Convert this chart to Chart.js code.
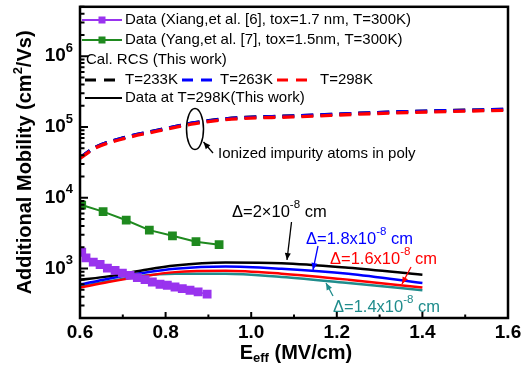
<!DOCTYPE html>
<html><head><meta charset="utf-8">
<script src="https://cdn.jsdelivr.net/npm/chart.js@4.4.1/dist/chart.umd.min.js"></script>
<style>html,body{margin:0;padding:0;background:#fff;}</style>
</head><body>
<canvas id="c" width="522" height="379"></canvas>
<script>
// ---------- data ----------
const eXiang  = [0.604, 0.614, 0.631, 0.647, 0.664, 0.682, 0.699, 0.717, 0.734, 0.752, 0.769, 0.787, 0.804, 0.822, 0.839, 0.857, 0.876, 0.897];
const muXiang = [1697, 1416, 1230, 1141, 1012, 940, 862, 800, 743, 697, 645, 599, 580, 549, 521, 494, 467, 434];

const eYang  = [0.604, 0.654, 0.708, 0.762, 0.816, 0.871, 0.925];
const muYang = [7900, 6370, 4820, 3490, 2900, 2395, 2175];

const eRcs     = [0.6, 0.635, 0.705, 0.783, 0.869, 0.954, 1.098, 1.331, 1.6];
const muRcs233 = [37000, 51500, 71300, 90500, 115500, 133000, 143500, 163000, 178000];
const muRcs263 = [36900, 51300, 71000, 90200, 115000, 132500, 143000, 162500, 177500];
const muRcs298 = [36000, 50100, 69200, 87900, 112000, 129000, 139000, 158000, 173000];

const eCalc   = [0.6, 0.666, 0.744, 0.822, 0.94, 1.071, 1.227, 1.4];
const muD20   = [692, 775, 940, 1105, 1217, 1190, 1026, 818];
const muD18   = [593, 719, 862, 993, 1070, 993, 846, 624];
const muD16   = [538, 645, 775, 890, 931, 846, 697, 538];
const muD14   = [561, 659, 788, 846, 846, 757, 624, 494];

const xMajorTicks = [0.6, 0.8, 1.0, 1.2, 1.4, 1.6];
const xMinorTicks = [0.7, 0.9, 1.1, 1.3, 1.5];
const yDecadeExps = [3, 4, 5, 6];

const FONT = '"Liberation Sans", Arial, sans-serif';
const PURPLE = '#9933ee', GREEN = '#1f8a1f', TEAL = '#1f8c8c', BLUE = '#0000ff', RED = '#ff0000';

const pts = (xs, ys) => xs.map((v, i) => ({x: v, y: ys[i]}));

// ---------- overlay plugin: frame, ticks, labels, legend, annotations ----------
function drawRich(ctx, x, y, parts) {
  let cx = x;
  for (const [t, size, weight, dy] of parts) {
    ctx.font = `${weight} ${size}px ${FONT}`;
    ctx.fillText(t, cx, y + dy);
    cx += ctx.measureText(t).width;
  }
  return cx;
}
function richWidth(ctx, parts) {
  let w = 0;
  for (const [t, size, weight] of parts) { ctx.font = `${weight} ${size}px ${FONT}`; w += ctx.measureText(t).width; }
  return w;
}
function arrow(ctx, x1, y1, x2, y2, color) {
  ctx.strokeStyle = color; ctx.fillStyle = color; ctx.lineWidth = 1.3;
  ctx.beginPath(); ctx.moveTo(x1, y1); ctx.lineTo(x2, y2); ctx.stroke();
  const ang = Math.atan2(y2 - y1, x2 - x1), L = 7, W = 3;
  ctx.beginPath();
  ctx.moveTo(x2, y2);
  ctx.lineTo(x2 - L * Math.cos(ang) + W * Math.sin(ang), y2 - L * Math.sin(ang) - W * Math.cos(ang));
  ctx.lineTo(x2 - L * Math.cos(ang) - W * Math.sin(ang), y2 - L * Math.sin(ang) + W * Math.cos(ang));
  ctx.closePath(); ctx.fill();
}

const overlay = {
  id: 'overlay',
  afterDatasetsDraw(chart) {
    const {ctx, chartArea: a, scales: {x, y}} = chart;
    ctx.save();
    // frame
    ctx.strokeStyle = '#000'; ctx.lineWidth = 2.5;
    ctx.strokeRect(a.left, a.top, a.right - a.left, a.bottom - a.top);
    // x ticks (inward)
    ctx.lineWidth = 2;
    ctx.beginPath();
    xMajorTicks.forEach(v => { const px = x.getPixelForValue(v); ctx.moveTo(px, a.bottom); ctx.lineTo(px, a.bottom - 6); });
    xMinorTicks.forEach(v => { const px = x.getPixelForValue(v); ctx.moveTo(px, a.bottom); ctx.lineTo(px, a.bottom - 3.5); });
    ctx.stroke();
    // y ticks (inward)
    ctx.beginPath();
    for (let k = 2; k <= 6; k++) {
      for (let m = 1; m <= 9; m++) {
        const v = m * Math.pow(10, k);
        if (v < y.min - 1e-9 || v > y.max + 1e-9) continue;
        const py = y.getPixelForValue(v);
        const len = m === 1 ? 8 : 4.5;
        ctx.moveTo(a.left, py); ctx.lineTo(a.left + len, py);
      }
    }
    ctx.stroke();

    // x tick labels
    ctx.fillStyle = '#000'; ctx.textBaseline = 'middle'; ctx.textAlign = 'center';
    ctx.font = `bold 19px ${FONT}`;
    xMajorTicks.forEach(v => ctx.fillText(v.toFixed(1), x.getPixelForValue(v), a.bottom + 15));
    // y tick labels 10^n
    ctx.textAlign = 'left';
    yDecadeExps.forEach(n => {
      const py = y.getPixelForValue(Math.pow(10, n));
      const parts = [['10', 19, 'bold', 0], [String(n), 13, 'bold', -8]];
      const w = richWidth(ctx, parts);
      drawRich(ctx, a.left - 7 - w, py, parts);
    });
    // x title
    {
      const parts = [['E', 20, 'bold', 0], ['eff', 13, 'bold', 5], [' (MV/cm)', 20, 'bold', 0]];
      const w = richWidth(ctx, parts);
      drawRich(ctx, (a.left + a.right) / 2 - w / 2 + 2, a.bottom + 35, parts);
    }
    // y title
    {
      ctx.save();
      ctx.translate(25, (a.top + a.bottom) / 2);
      ctx.rotate(-Math.PI / 2);
      const parts = [['Additional Mobility (cm', 20, 'bold', 0], ['2', 13, 'bold', -7], ['/Vs)', 20, 'bold', 0]];
      const w = richWidth(ctx, parts);
      drawRich(ctx, -w / 2, 0, parts);
      ctx.restore();
    }

    // legend
    ctx.textAlign = 'left'; ctx.textBaseline = 'middle';
    const seg = (x1, x2, yy, color, dash, lw) => {
      ctx.save(); ctx.strokeStyle = color; ctx.lineWidth = lw; ctx.setLineDash(dash);
      ctx.beginPath(); ctx.moveTo(x1, yy); ctx.lineTo(x2, yy); ctx.stroke(); ctx.restore();
    };
    const txt = (t, xx, yy) => { ctx.fillStyle = '#000'; ctx.font = `15px ${FONT}`; ctx.fillText(t, xx, yy); };
    seg(82, 122, 20, PURPLE, [], 2); ctx.fillStyle = PURPLE; ctx.fillRect(98.5, 16.5, 7, 7);
    txt('Data (Xiang,et al. [6], tox=1.7 nm, T=300K)', 125, 20);
    seg(82, 122, 40, GREEN, [], 2); ctx.fillStyle = GREEN; ctx.fillRect(98.5, 36.5, 7, 7);
    txt('Data (Yang,et al. [7], tox=1.5nm, T=300K)', 125, 40);
    txt('Cal. RCS (This work)', 86, 60);
    seg(85, 116, 80, '#000', [11, 8], 3); txt('T=233K', 125, 80);
    seg(182, 213, 80, BLUE, [11, 8], 3); txt('T=263K', 220, 80);
    seg(277, 310, 80, RED, [11, 8], 3); txt('T=298K', 320, 80);
    seg(85, 122, 98, '#000', [], 2); txt('Data at T=298K(This work)', 125, 98);

    // ionized impurity annotation
    ctx.strokeStyle = '#000'; ctx.lineWidth = 1.5;
    ctx.beginPath(); ctx.ellipse(195, 129, 8.5, 20.5, 0, 0, Math.PI * 2); ctx.stroke();
    arrow(ctx, 213, 153, 203.5, 142, '#000');
    ctx.fillStyle = '#000'; ctx.font = `15px ${FONT}`;
    ctx.fillText('Ionized impurity atoms in poly', 218, 154);

    // delta annotations
    const FS = 16.5, SS = 11.5;
    const delta = (x0, y0, mid, color) => {
      ctx.fillStyle = color;
      drawRich(ctx, x0, y0, [['\u0394=' + mid + '10', FS, 'normal', 0], ['-8', SS, 'normal', -7], [' cm', FS, 'normal', 0]]);
    };
    delta(232, 212, '2\u00d7', '#000');
    arrow(ctx, 291.5, 222, 287, 260, '#000');
    delta(306, 239, '1.8x', BLUE);
    arrow(ctx, 318, 246, 313, 270, BLUE);
    delta(330, 259, '1.6x', RED);
    arrow(ctx, 411, 267, 402, 284, RED);
    delta(333, 307, '1.4x', TEAL);
    arrow(ctx, 333, 296, 326, 283, TEAL);

    ctx.restore();
  }
};

const lineDs = (label, xs, ys, color, extra) => Object.assign({
  label, data: pts(xs, ys), borderColor: color, backgroundColor: color,
  borderWidth: 2.5, pointRadius: 0, cubicInterpolationMode: 'monotone', fill: false
}, extra || {});

new Chart(document.getElementById('c'), {
  type: 'line',
  data: {
    datasets: [
      lineDs('Xiang', eXiang, muXiang, PURPLE, {borderWidth: 1.5, pointRadius: 5.2, pointStyle: 'rect', cubicInterpolationMode: 'default', tension: 0}),
      lineDs('Yang', eYang, muYang, GREEN, {borderWidth: 2, pointRadius: 4.8, pointStyle: 'rect', cubicInterpolationMode: 'default', tension: 0}),
      lineDs('RCS 298K', eRcs, muRcs298, RED, {borderWidth: 3.3, borderDash: [12, 7]}),
      lineDs('RCS 263K', eRcs, muRcs263, BLUE, {borderWidth: 3.3, borderDash: [12, 7]}),
      lineDs('RCS 233K', eRcs, muRcs233, '#000', {borderWidth: 3.3, borderDash: [12, 7]}),
      lineDs('D2.0', eCalc, muD20, '#000'),
      lineDs('D1.8', eCalc, muD18, BLUE),
      lineDs('D1.6', eCalc, muD16, RED),
      lineDs('D1.4', eCalc, muD14, TEAL)
    ]
  },
  options: {
    responsive: false, animation: false, devicePixelRatio: 1,
    layout: {padding: {left: 0, right: 14, top: 4, bottom: 0}},
    plugins: {legend: {display: false}, tooltip: {enabled: false}},
    scales: {
      x: {type: 'linear', min: 0.6, max: 1.6,
          grid: {display: false}, border: {display: false},
          ticks: {display: false},
          afterFit: s => { s.height = 61; }},
      y: {type: 'logarithmic', min: 200, max: 5000000,
          grid: {display: false}, border: {display: false},
          ticks: {display: false},
          afterFit: s => { s.width = 80; }}
    }
  },
  plugins: [overlay]
});
</script>
</body></html>
